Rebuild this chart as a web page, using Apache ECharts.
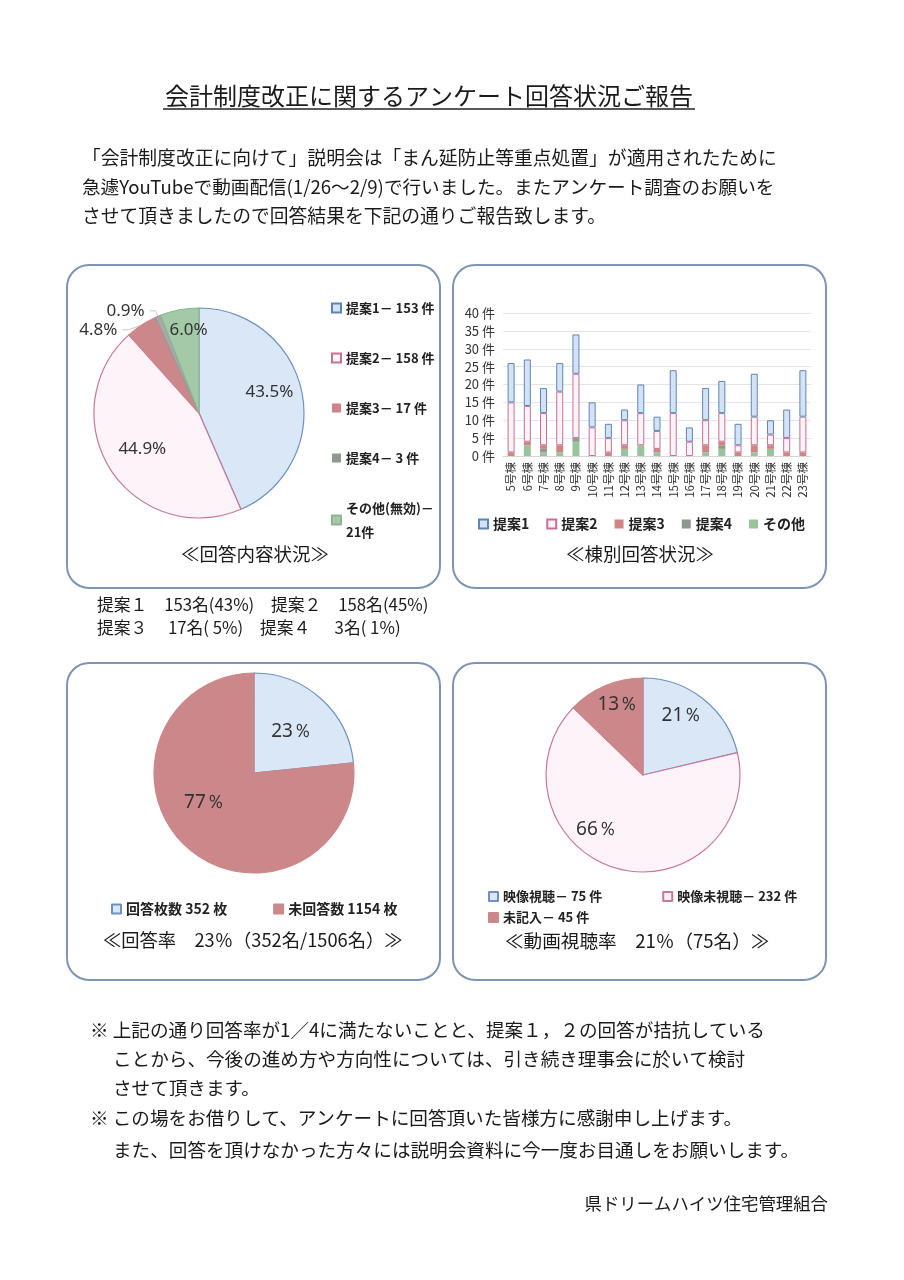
<!DOCTYPE html>
<html><head><meta charset="utf-8">
<script src="https://cdn.jsdelivr.net/npm/echarts@6/dist/echarts.min.js"></script>
<style>html,body{margin:0;padding:0;background:#fff}#c{width:904px;height:1280px}</style>
</head><body><div id="c"></div>
<script>
const FONT = '"Noto Sans CJK JP", "Noto Sans", sans-serif';

// ---- data ----
const buildings = ['5号棟','6号棟','7号棟','8号棟','9号棟','10号棟','11号棟','12号棟','13号棟','14号棟','15号棟','16号棟','17号棟','18号棟','19号棟','20号棟','21号棟','22号棟','23号棟'];
const prop1 = [11,13,7,8,11,7,4,3,8,4,12,4,9,9,6,12,4,8,13];
const prop2 = [14,10,9,15,18,8,4,7,9,5,12,4,7,8,2,8,3,4,10];
const prop3 = [1,1,1,2,0,0,1,1,0,1,0,0,2,1,1,2,1,1,1];
const prop4 = [0,0,1,0,1,0,0,0,0,0,0,0,0,1,0,0,0,0,0];
const others = [0,3,1,1,4,0,0,2,3,1,0,0,1,2,0,1,2,0,0];
const barNames = ['提案1','提案2','提案3','提案4','その他'];
const yMin = 0, yMax = 40, yStep = 5;

const contentNames = ['提案1','提案2','提案3','提案4','その他(無効)'];
const contentValues = [153,158,17,3,21];

const rateNames = ['回答枚数','未回答数'];
const rateValues = [352,1154];

const viewNames = ['映像視聴','映像未視聴','未記入'];
const viewValues = [75,232,45];

// ---- styles ----
const C = {
  blueFill:'#d9e7f6', blueLine:'#6e90c4',
  pinkFill:'#fef3f8', pinkLine:'#c7789a',
  red:'#cb8789', gray:'#a8a8a8', green:'#a3c9a7',
  barBlue:'#d3e3f4', barBlueLine:'#5f84ba',
  barPinkLine:'#c8708f', barRed:'#cf8486', barGray:'#8e988f', barGreen:'#98c49b'
};
const sum = a => a.reduce((s,v)=>s+v,0);

const chart = echarts.init(document.getElementById('c'), null, {renderer:'canvas'});

function txt(text, x, y, size, opt) {
  opt = opt || {};
  return {type:'text', silent:true, z:10, style:{text, x, y, fill:opt.color||'#1a1a1a',
    font:(opt.weight||'normal')+' '+size+'px '+FONT, textAlign:opt.align||'left', textVerticalAlign:'middle'}};
}
function box(x,y,w,h){
  return {type:'rect', silent:true, z:1, shape:{x,y,width:w,height:h,r:22},
    style:{fill:'none', stroke:'#7f94b4', lineWidth:2}};
}

const contentTotal = sum(contentValues);
const contentStyles = [
  {color:C.blueFill, borderColor:C.blueLine},
  {color:C.pinkFill, borderColor:C.pinkLine},
  {color:C.red, borderColor:C.red},
  {color:C.gray, borderColor:'#999'},
  {color:C.green, borderColor:'#8fb593'}
];
const contentLabelPos = ['inside','inside','outside','outside','inside'];
const contentLabelOffset = [[16,-10],[-10,6],[0,0],[0,0],[0,-28]];

const rateStyles = [
  {color:C.blueFill, borderColor:C.blueLine},
  {color:C.red, borderColor:C.red}
];
const rateLabelOffset = [[2,-2],[-14,-10]];
const viewStyles = [
  {color:C.blueFill, borderColor:C.blueLine},
  {color:C.pinkFill, borderColor:C.pinkLine},
  {color:C.red, borderColor:C.red}
];
const viewLabelOffset = [[7,-19],[-33,5],[-5,-23]];

const legendText = {fontSize:13, fontWeight:'bold', color:'#222', fontFamily:FONT};
const pieLabel = {fontSize:17, color:'#333', fontFamily:'"Noto Sans", sans-serif'};

const barStyle = {
  '提案1':{color:C.barBlue, borderColor:C.barBlueLine, borderWidth:1},
  '提案2':{color:C.pinkFill, borderColor:C.barPinkLine, borderWidth:1},
  '提案3':{color:C.barRed},
  '提案4':{color:C.barGray},
  'その他':{color:C.barGreen}
};
const barData = {'提案1':prop1,'提案2':prop2,'提案3':prop3,'提案4':prop4,'その他':others};
const stackOrder = ['その他','提案4','提案3','提案2','提案1'];

const option = {
  backgroundColor:'#ffffff',
  animation:false,
  textStyle:{fontFamily:FONT},
  grid:[{left:503, top:313, width:308, height:143, containLabel:false}],
  xAxis:[{type:'category', gridIndex:0, data:buildings,
    axisTick:{show:false}, axisLine:{lineStyle:{color:'#d6d6d6'}},
    axisLabel:{rotate:90, interval:0, fontSize:11.5, color:'#333', margin:6, fontFamily:FONT}}],
  yAxis:[{type:'value', gridIndex:0, min:yMin, max:yMax, interval:yStep,
    axisLine:{show:false}, axisTick:{show:false},
    axisLabel:{formatter:'{value} 件', fontSize:13, color:'#333', margin:8, fontFamily:FONT},
    splitLine:{lineStyle:{color:'#e4e4e4'}}}],
  legend:[
    {orient:'vertical', left:326, top:291, itemWidth:9, itemHeight:9, itemGap:26, icon:'rect',
     data:contentNames, textStyle:{...legendText, lineHeight:24}, selectedMode:false,
     formatter:n=>{const v=contentValues[contentNames.indexOf(n)];
       return n==='その他(無効)' ? n+'－\n'+v+'件' : n+'－ '+v+' 件';}},
    {left:473, top:512, itemWidth:9, itemHeight:9, itemGap:17, icon:'rect',
     data:barNames, textStyle:{...legendText, fontSize:14}, selectedMode:false},
    {left:106, top:897, itemWidth:9, itemHeight:9, itemGap:46, icon:'rect',
     data:rateNames, textStyle:{...legendText, fontSize:14}, selectedMode:false,
     formatter:n=>n+' '+rateValues[rateNames.indexOf(n)]+' 枚'},
    {left:483, top:885, itemWidth:9, itemHeight:9, itemGap:60, icon:'rect',
     data:viewNames.slice(0,2), textStyle:legendText, selectedMode:false,
     formatter:n=>n+'－ '+viewValues[viewNames.indexOf(n)]+' 件'},
    {left:483, top:906, itemWidth:9, itemHeight:9, icon:'rect',
     data:viewNames.slice(2), textStyle:legendText, selectedMode:false,
     formatter:n=>n+'－ '+viewValues[viewNames.indexOf(n)]+' 件'}
  ],
  series:[
    ...stackOrder.map(n=>({type:'bar', name:n, stack:'b', xAxisIndex:0, yAxisIndex:0,
      barWidth:7, data:barData[n], itemStyle:barStyle[n], emphasis:{disabled:true}})),
    {type:'pie', name:'content', center:[199,413], radius:[0,105], startAngle:90, clockwise:true,
     emphasis:{disabled:true},
     label:{...pieLabel, formatter:p=>(p.value/contentTotal*100).toFixed(1)+'%'},
     labelLine:{show:true, length:6, length2:6, lineStyle:{color:'#c8c8c8'}},
     itemStyle:{borderWidth:1.2},
     data:contentNames.map((n,i)=>({name:n, value:contentValues[i], itemStyle:contentStyles[i],
        label:{position:contentLabelPos[i], offset:contentLabelOffset[i]},
        labelLine:{show:contentLabelPos[i]==='outside'}}))},
    {type:'pie', name:'rate', center:[254,773], radius:[0,100], startAngle:90, clockwise:true,
     emphasis:{disabled:true}, percentPrecision:0,
     label:{...pieLabel, fontSize:19, position:'inside', formatter:'{d}％'},
     itemStyle:{borderWidth:1.2},
     data:rateNames.map((n,i)=>({name:n, value:rateValues[i], itemStyle:rateStyles[i],
        label:{offset:rateLabelOffset[i]}}))},
    {type:'pie', name:'view', center:[643,775], radius:[0,97], startAngle:90, clockwise:true,
     emphasis:{disabled:true}, percentPrecision:0,
     label:{...pieLabel, fontSize:19, position:'inside', formatter:'{d}％'},
     itemStyle:{borderWidth:1.2},
     data:viewNames.map((n,i)=>({name:n, value:viewValues[i], itemStyle:viewStyles[i],
        label:{offset:viewLabelOffset[i]}}))}
  ],
  graphic:[
    box(67,265,373,323), box(453,265,373,323), box(67,663,373,317), box(453,663,373,317),
    txt('会計制度改正に関するアンケート回答状況ご報告', 429, 96, 24, {align:'center'}),
    {type:'line', silent:true, shape:{x1:163,y1:109,x2:695,y2:109}, style:{stroke:'#222', lineWidth:1.5}},
    txt('「会計制度改正に向けて」説明会は「まん延防止等重点処置」が適用されたために', 82, 158, 18.8),
    txt('急遽YouTubeで動画配信(1/26～2/9)で行いました。またアンケート調査のお願いを', 82, 187, 18.6),
    txt('させて頂きましたので回答結果を下記の通りご報告致します。', 82, 216, 18.8),
    txt('≪回答内容状況≫', 255, 554, 18.5, {align:'center'}),
    txt('≪棟別回答状況≫', 640, 554, 18.5, {align:'center'}),
    txt('提案１　153名(43%)　提案２　158名(45%)', 97, 605, 16.8),
    txt('提案３　 17名( 5%)　提案４　  3名( 1%)', 97, 628, 16.8),
    txt('≪回答率　23％（352名/1506名）≫', 103, 940, 18.3),
    txt('≪動画視聴率　21％（75名）≫', 505, 941, 18.6),
    txt('※ 上記の通り回答率が1／4に満たないことと、提案１，２の回答が拮抗している', 90, 1030, 18.6),
    txt('ことから、今後の進め方や方向性については、引き続き理事会に於いて検討', 113, 1059, 18.6),
    txt('させて頂きます。', 113, 1088, 18.6),
    txt('※ この場をお借りして、アンケートに回答頂いた皆様方に感謝申し上げます。', 90, 1118, 18.6),
    txt('また、回答を頂けなかった方々には説明会資料に今一度お目通しをお願いします。', 113, 1150, 18.6),
    txt('県ドリームハイツ住宅管理組合', 828, 1203, 17.4, {align:'right'})
  ]
};
chart.setOption(option);
</script></body></html>
